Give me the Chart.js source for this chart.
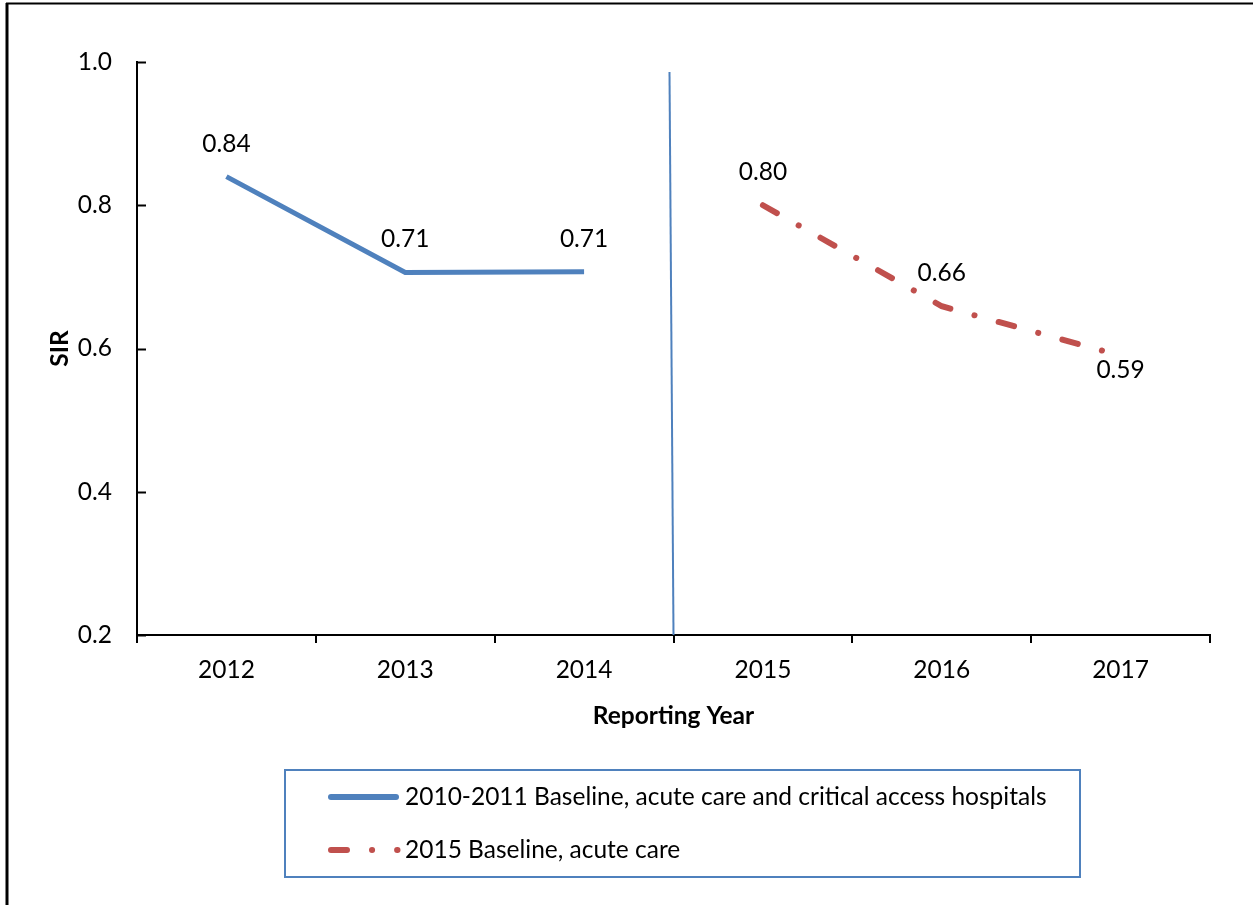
<!DOCTYPE html>
<html>
<head>
<meta charset="utf-8">
<script src="https://cdn.jsdelivr.net/npm/chart.js@4.4.1/dist/chart.umd.min.js"></script>
<style>
  html, body { margin: 0; padding: 0; background: #fff; }
  #wrap { width: 1253px; height: 905px; }
</style>
</head>
<body>
<div id="wrap"><canvas id="grafica" width="1253" height="905"></canvas></div>
<script>
const years = ["2012", "2013", "2014", "2015", "2016", "2017"];
const baseline2010 = [0.84, 0.706, 0.707, null, null, null];
const baseline2015 = [null, null, null, 0.80, 0.659, 0.59];
const yTicks = [0.2, 0.4, 0.6, 0.8, 1.0];
const serieNames = [
    "2010-2011 Baseline, acute care and critical access hospitals",
    "2015 Baseline, acute care"
];

const azul = "#4F81BD";
const rojo = "#C0504D";
const fuente = "Lato, 'Open Sans', sans-serif";
const tam = 24.5;
const redDash = [16, 25, 0.1, 25];

// fondo blanco y marco del grafico
const marco = {
    id: "marco",
    beforeDraw(chart) {
        const c = chart.ctx;
        c.save();
        c.fillStyle = "#fff";
        c.fillRect(0, 0, chart.width, chart.height);
        c.strokeStyle = "#000";
        c.lineWidth = 3;
        c.beginPath();
        c.moveTo(7, 3);
        c.lineTo(7, chart.height);
        c.stroke();
        c.lineWidth = 2;
        c.beginPath();
        c.moveTo(6, 3.5);
        c.lineTo(chart.width, 3.5);
        c.stroke();
        c.restore();
    }
};

// marcas hacia dentro del eje y, linea divisoria, etiquetas y leyenda
const extras = {
    id: "extras",
    afterDatasetsDraw(chart) {
        const c = chart.ctx;
        const x = chart.scales.x;
        const y = chart.scales.y;
        const area = chart.chartArea;
        c.save();

        c.strokeStyle = "#000";
        c.lineWidth = 2;
        yTicks.forEach(v => {
            const py = Math.round(y.getPixelForValue(v)) + 0.5;
            c.beginPath();
            c.moveTo(area.left, py);
            c.lineTo(area.left + 9, py);
            c.stroke();
        });

        // cambio de linea base entre 2014 y 2015
        const mid = (x.getPixelForValue(2) + x.getPixelForValue(3)) / 2;
        c.strokeStyle = azul;
        c.lineWidth = 2;
        c.beginPath();
        c.moveTo(mid - 4, y.getPixelForValue(0.986));
        c.lineTo(mid, area.bottom);
        c.stroke();

        // etiquetas de datos
        c.fillStyle = "#000";
        c.font = tam + "px " + fuente;
        c.textAlign = "center";
        c.textBaseline = "middle";
        [baseline2010, baseline2015].forEach(serie => {
            serie.forEach((v, i) => {
                if (v === null) return;
                const px = x.getPixelForValue(i);
                const py = y.getPixelForValue(v);
                const dy = i === 5 ? 14 : -33;
                c.fillText(v.toFixed(2), px, py + dy);
            });
        });

        // leyenda con recuadro
        c.strokeStyle = azul;
        c.lineWidth = 2;
        c.strokeRect(285, 770, 795, 107);
        c.lineCap = "round";
        c.lineWidth = 6;
        c.strokeStyle = azul;
        c.beginPath();
        c.moveTo(331, 797);
        c.lineTo(396, 797);
        c.stroke();
        c.strokeStyle = rojo;
        c.setLineDash(redDash);
        c.beginPath();
        c.moveTo(331, 850);
        c.lineTo(397.5, 850);
        c.stroke();
        c.setLineDash([]);
        c.textAlign = "left";
        c.fillText(serieNames[0], 405, 797);
        c.fillText(serieNames[1], 405, 850);
        c.restore();
    }
};

const data = {
    labels: years,
    datasets: [{
        label: serieNames[0],
        data: baseline2010,
        borderColor: azul,
        borderWidth: 5,
        pointRadius: 0,
        spanGaps: false
    }, {
        label: serieNames[1],
        data: baseline2015,
        borderColor: rojo,
        borderWidth: 6,
        borderDash: redDash,
        borderCapStyle: "round",
        pointRadius: 0,
        spanGaps: false
    }]
};

const config = {
    type: "line",
    data: data,
    plugins: [marco, extras],
    options: {
        responsive: false,
        animation: false,
        layout: { padding: { left: 0, top: 62, right: 43, bottom: 165 } },
        plugins: {
            legend: { display: false },
            tooltip: { enabled: false }
        },
        scales: {
            x: {
                offset: true,
                afterFit: s => { s.height = 105; },
                border: { color: "#000", width: 2 },
                grid: { offset: true, drawOnChartArea: false, drawTicks: true, tickLength: 8, color: "#000", lineWidth: 2 },
                ticks: { color: "#000", padding: 12, maxRotation: 0, font: { family: fuente, size: tam } },
                title: { display: true, text: "Reporting Year", color: "#000", padding: { top: 0, bottom: 9 }, font: { family: fuente, size: tam, weight: "bold" } }
            },
            y: {
                min: 0.2,
                max: 1.0,
                afterFit: s => { s.width = 137; },
                border: { color: "#000", width: 2 },
                grid: { drawOnChartArea: false, drawTicks: false },
                ticks: { stepSize: 0.2, color: "#000", padding: 25, font: { family: fuente, size: tam }, callback: v => v.toFixed(1) },
                title: { display: true, text: "SIR", color: "#000", padding: { top: 45, bottom: 0 }, font: { family: fuente, size: tam, weight: "bold" } }
            }
        }
    }
};

const ctx = document.querySelector("#grafica");
const graficaSIR = new Chart(ctx, config);
</script>
</body>
</html>
